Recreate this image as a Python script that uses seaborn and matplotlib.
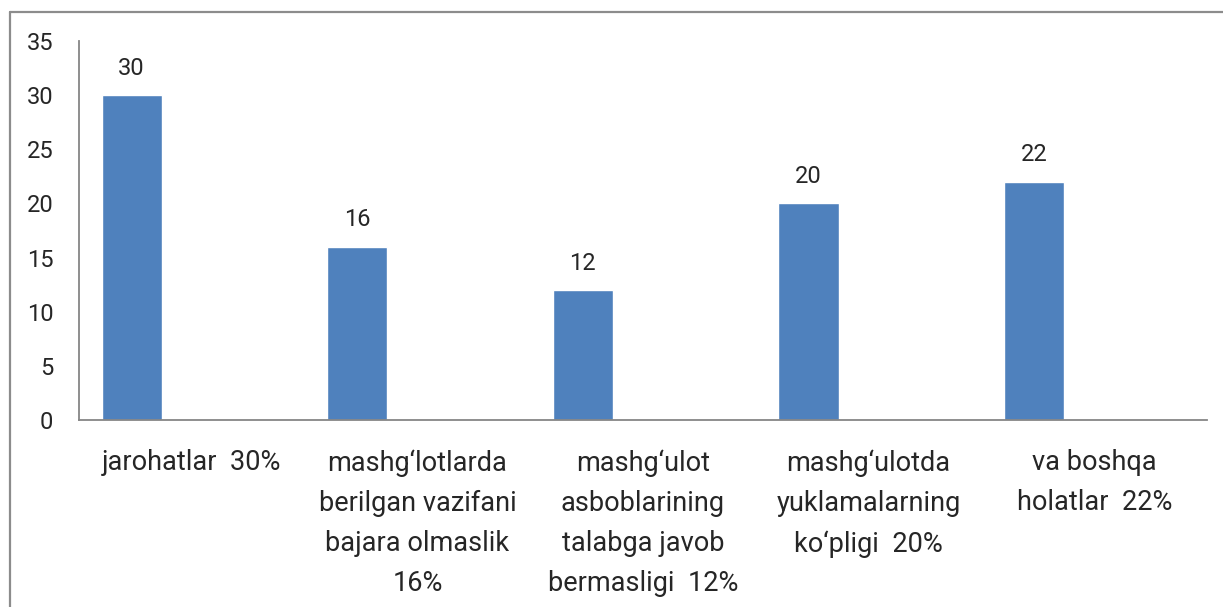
import matplotlib
matplotlib.use("Agg")
import matplotlib.pyplot as plt
from matplotlib.lines import Line2D
import seaborn as sns
import pandas as pd

sns.set_style("white")
plt.rcParams['font.family'] = ['Roboto', 'DejaVu Sans']

# categories (x tick labels) and values
categories = ["jarohatlar  30%",
              "mashg\u2018lotlarda\nberilgan vazifani\nbajara olmaslik\n16%",
              "mashg\u2018ulot\nasboblarining\ntalabga javob\nbermasligi  12%",
              "mashg\u2018ulotda\nyuklamalarning\nko\u2018pligi  20%",
              "va boshqa\nholatlar  22%"]
values = [30, 16, 12, 20, 22]
# Excel clustered chart: one filled series out of three slots
series_order = ["Ряд1", "Ряд2", "Ряд3"]

df = pd.DataFrame({"cat": categories, "val": values, "series": series_order[0]})

fig = plt.figure(figsize=(12.23, 6.07), dpi=100)
ax = fig.add_axes([79/1223, 1 - 420/607, (1207 - 79)/1223, (420 - 41)/607])

sns.barplot(data=df, x="cat", y="val", hue="series", hue_order=series_order,
            palette=["#4F81BD", "#C0504D", "#9BBB59"], width=0.8, dodge=True,
            saturation=1, legend=False, ax=ax, errorbar=None)

for c in ax.containers:
    ax.bar_label(c, labels=[f"{v:g}" for v in c.datavalues], padding=11, fontsize=17)

ax.set_ylim(0, 35)
ax.set_xlim(-0.5, 4.5)
ax.set_yticks(range(0, 36, 5))
ax.set_xlabel("")
ax.set_ylabel("")
ax.tick_params(axis="y", length=0, pad=18.5, labelsize=17)
ax.tick_params(axis="x", length=0, pad=21, labelsize=19.5)
for lbl in ax.get_xticklabels():
    lbl.set_linespacing(1.62)
    lbl.set_multialignment("center")

for s in ["top", "right"]:
    ax.spines[s].set_visible(False)
for s in ["left", "bottom"]:
    ax.spines[s].set_color("#868686")
    ax.spines[s].set_linewidth(1.3)

# outer chart-area border (left and top edges visible)
fig.add_artist(Line2D([10/1223, 10/1223], [0, 1 - 11.5/607], color="#8C8C8C", lw=1.6))
fig.add_artist(Line2D([10/1223, 1], [1 - 11.5/607, 1 - 11.5/607], color="#8C8C8C", lw=1.6))

fig.savefig("out.png", dpi=100)
